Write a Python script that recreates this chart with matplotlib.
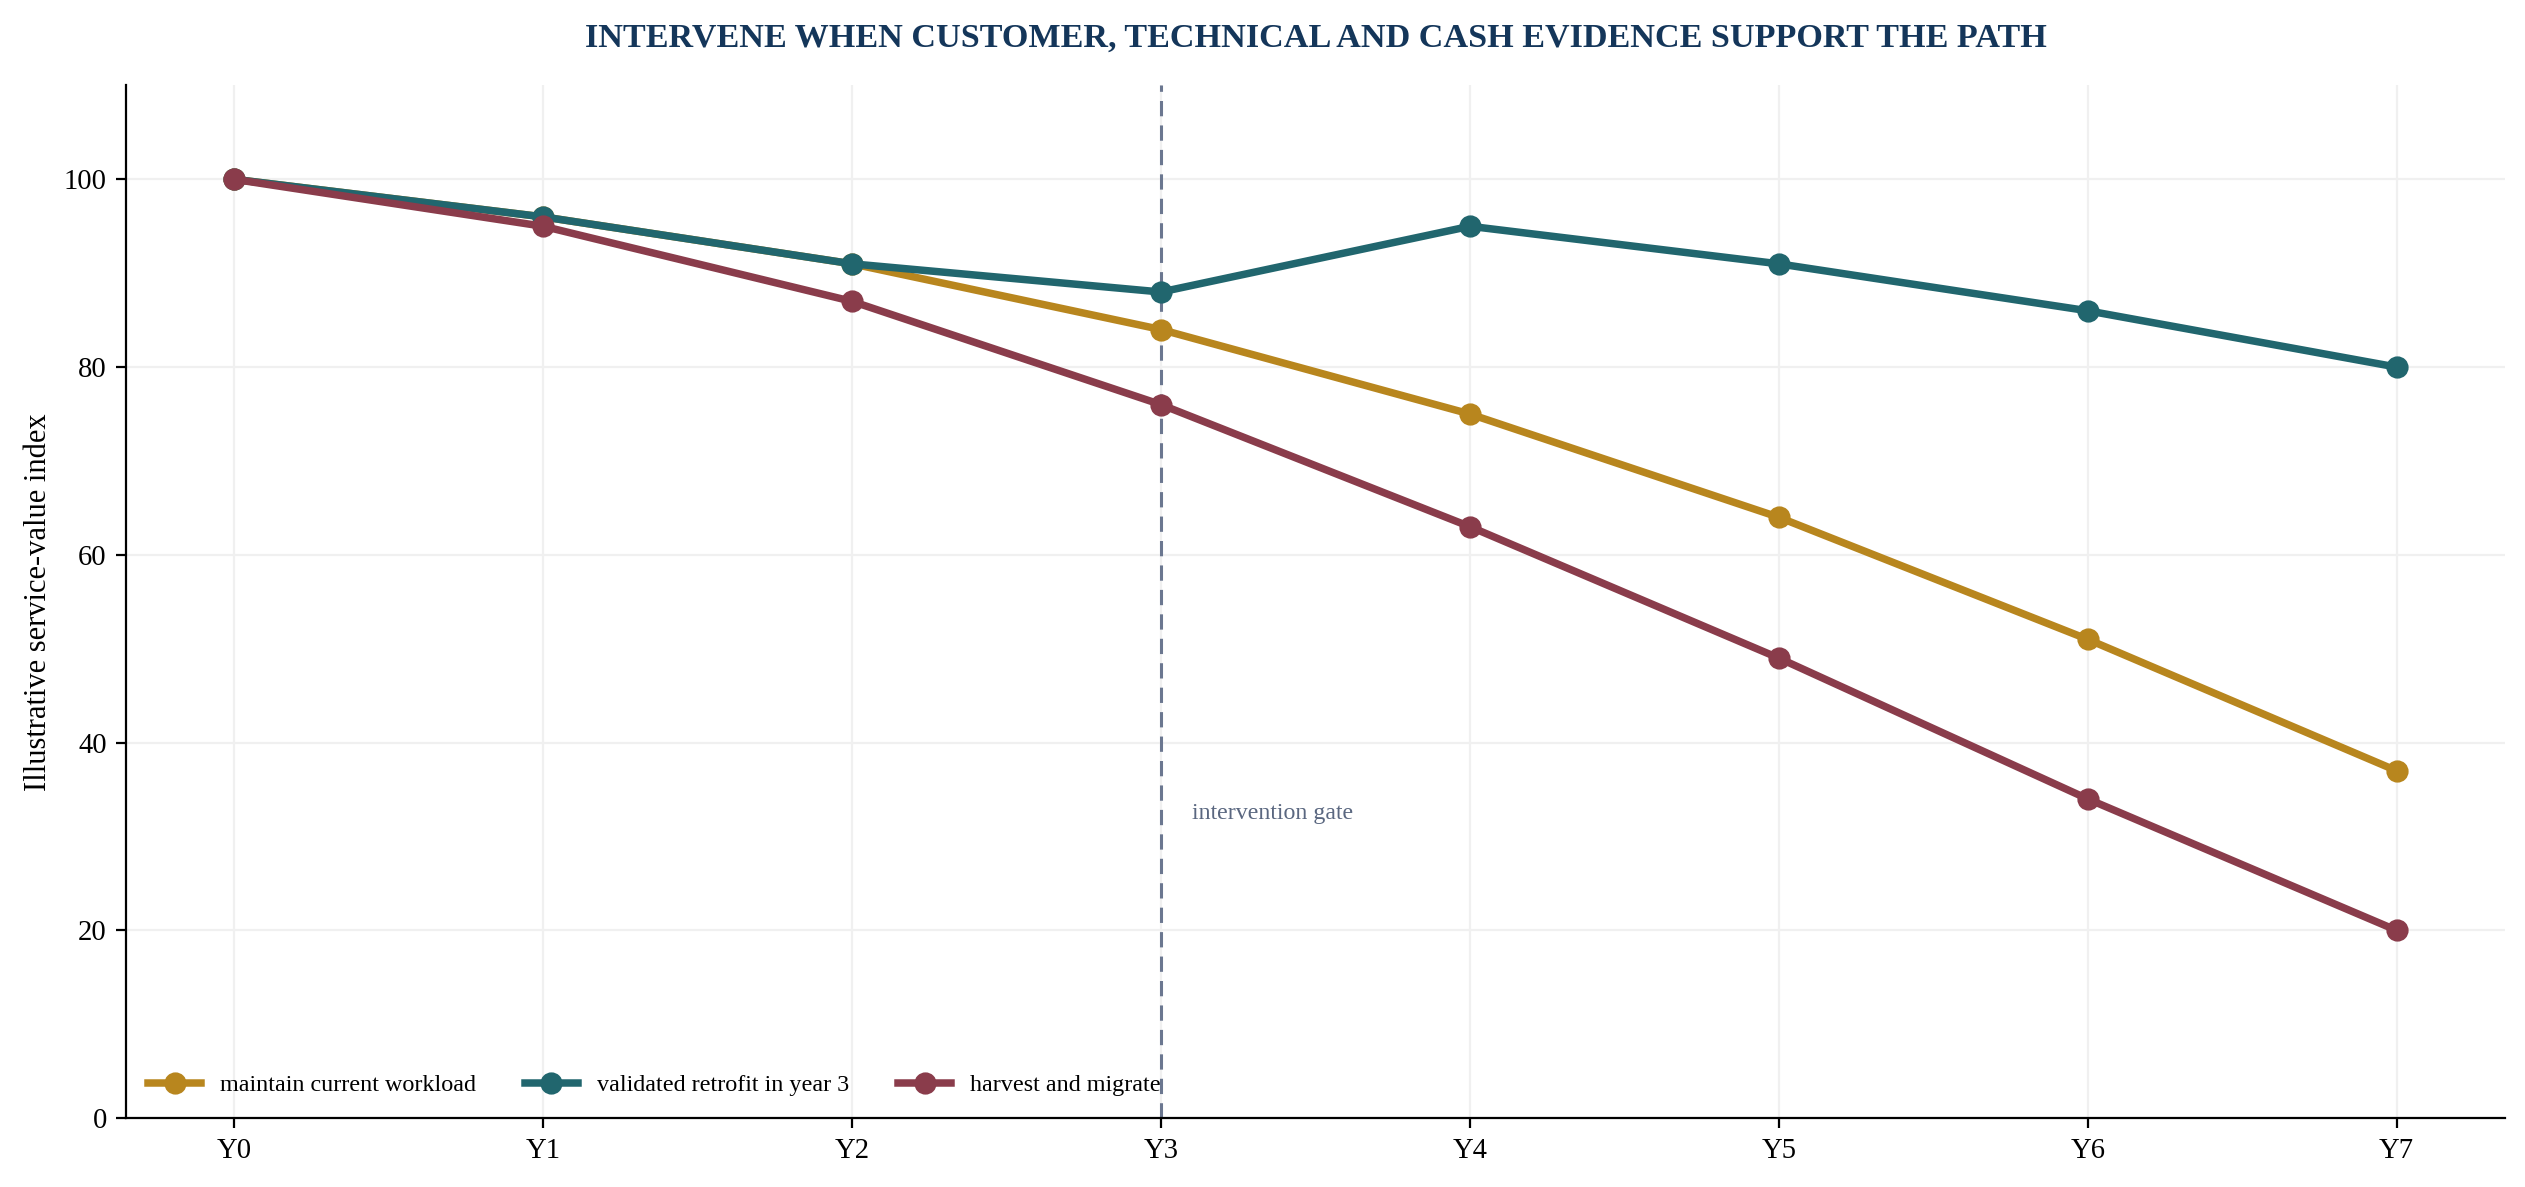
import matplotlib
matplotlib.use("Agg")
import matplotlib.pyplot as plt

years = ["Y0", "Y1", "Y2", "Y3", "Y4", "Y5", "Y6", "Y7"]
maintain = [100, 96, 91, 84, 75, 64, 51, 37]
retrofit = [100, 96, 91, 88, 95, 91, 86, 80]
harvest = [100, 95, 87, 76, 63, 49, 34, 20]
gate_index = 3

plt.rcParams['font.family'] = ['Liberation Serif', 'DejaVu Serif']

fig = plt.figure(figsize=(12.625, 5.935), dpi=200)
ax = fig.add_axes([0.050, 0.058, 0.942, 0.870])

x = list(range(len(years)))
ax.plot(x, maintain, color="#b8861e", lw=2.7, marker="o", ms=7, label="maintain current workload", zorder=3)
ax.plot(x, retrofit, color="#21666e", lw=2.7, marker="o", ms=7, label="validated retrofit in year 3", zorder=3)
ax.plot(x, harvest, color="#8a3c4b", lw=2.7, marker="o", ms=7, label="harvest and migrate", zorder=3)

ax.axvline(gate_index, color="#6b7790", lw=1.1, ls=(0, (5, 3)), zorder=2)
ax.text(gate_index + 0.1, 32.5, "intervention gate", color="#5a6780", fontsize=8.6, va="center", ha="left")

ax.set_ylim(0, 110)
ax.set_xticks(x)
ax.set_xticklabels(years)
ax.tick_params(labelsize=10.3)
ax.set_ylabel("Illustrative service-value index", fontsize=11)
ax.grid(True, color="#f0f0f0", lw=0.8, zorder=0)
ax.set_axisbelow(True)
for s in ["top", "right"]:
    ax.spines[s].set_visible(False)

ax.set_title("INTERVENE WHEN CUSTOMER, TECHNICAL AND CASH EVIDENCE SUPPORT THE PATH",
             fontsize=12.3, fontweight="bold", color="#14365a", pad=14)

ax.legend(loc="lower left", ncol=3, frameon=False, fontsize=8.7, handlelength=2.2,
          columnspacing=2.0, bbox_to_anchor=(0.0, 0.0))

fig.savefig("out.png", dpi=200)
